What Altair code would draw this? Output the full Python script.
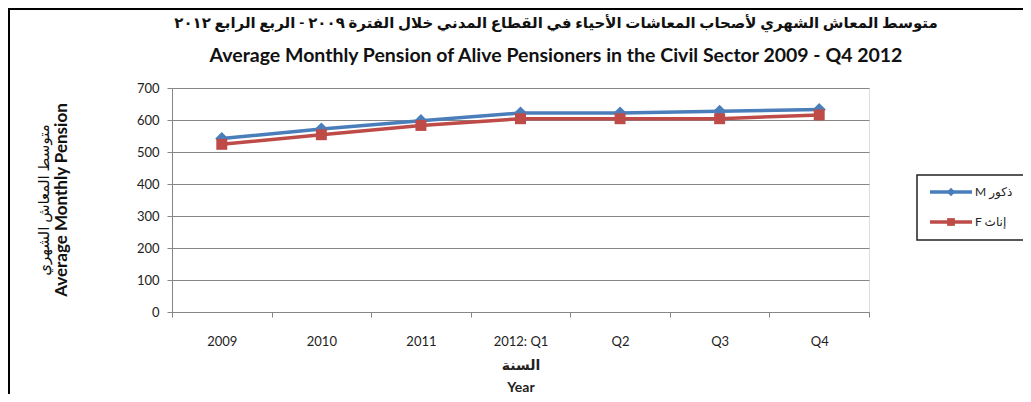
import altair as alt
import pandas as pd

categories = ["2009", "2010", "2011", "2012: Q1", "Q2", "Q3", "Q4"]
male_values = [542, 572, 598, 622, 622, 627, 633]
female_values = [524, 554, 583, 604, 604, 604, 616]
series_names = ["M ذكور", "F إناث"]
series_colors = ["#4A7EBB", "#BE4B48"]

title_ar = "متوسط المعاش الشهري لأصحاب المعاشات الأحياء في القطاع المدني خلال الفترة ٢٠٠٩ - الربع الرابع ٢٠١٢"
title_en = "Average Monthly Pension of Alive Pensioners in the Civil Sector 2009 - Q4 2012"
y_title_ar = "متوسط المعاش الشهري"
y_title_en = "Average Monthly Pension"
x_title = ["السنة", "Year"]

rows = []
for name, vals in zip(series_names, [male_values, female_values]):
    for c, v in zip(categories, vals):
        rows.append({"period": c, "value": v, "series": name})
df = pd.DataFrame(rows)

FONT = "Lato, 'DejaVu Sans', sans-serif"

x_enc = alt.X(
    "period:N",
    sort=categories,
    scale=alt.Scale(type="band", paddingInner=0, paddingOuter=0),
    axis=alt.Axis(
        title=x_title, labelAngle=0, grid=False, tickBand="extent", tickSize=5,
        domainColor="#868686", tickColor="#868686", labelPadding=18,
        labelFontSize=13, labelColor="#222222", labelFont=FONT,
        titleFont=FONT, titleFontSize=14, titleFontWeight="bold",
        titleLineHeight=22, titlePadding=10, titleColor="#222222",
    ),
)
y_enc = alt.Y(
    "value:Q",
    scale=alt.Scale(domain=[0, 700], nice=False),
    axis=alt.Axis(
        title=None, values=[0, 100, 200, 300, 400, 500, 600, 700],
        grid=True, gridColor="#868686", gridWidth=1, tickSize=5,
        domainColor="#868686", tickColor="#868686", labelPadding=8,
        labelFontSize=13, labelColor="#222222", labelFont=FONT,
    ),
)
color_enc = alt.Color(
    "series:N", scale=alt.Scale(domain=series_names, range=series_colors), legend=None
)

base = alt.Chart(df)
layers = []
for name, shape, size in zip(series_names, ["diamond", "square"], [170, 120]):
    sub = base.transform_filter(alt.datum.series == name)
    layers.append(sub.mark_line(strokeWidth=3.5).encode(x=x_enc, y=y_enc, color=color_enc))
    layers.append(
        sub.mark_point(shape=shape, filled=True, size=size, opacity=1).encode(
            x=x_enc, y=y_enc, color=color_enc
        )
    )

one = pd.DataFrame({"k": [0]})


def text_layer(txt, x, y, size, weight="normal", angle=0):
    return alt.Chart(pd.DataFrame({"t": [txt]})).mark_text(
        align="center", baseline="middle", fontSize=size, font=FONT,
        fontWeight=weight, color="#111111", angle=angle,
    ).encode(x=alt.value(x), y=alt.value(y), text="t:N")


# outer frame
frame = alt.Chart(one).mark_rect(fill="transparent", stroke="#000000", strokeWidth=2).encode(
    x=alt.value(-163), x2=alt.value(1000), y=alt.value(-79), y2=alt.value(400)
)
titles = [
    text_layer(title_ar, 384, -65, 15, "bold"),
    text_layer(title_en, 384, -32, 19.5, "bold"),
    text_layer(y_title_ar, -128, 112, 15, "normal", 270),
    text_layer(y_title_en, -110, 112, 17, "bold", 270),
]
# legend box
lbox = alt.Chart(one).mark_rect(fill="white", stroke="#222222", strokeWidth=1.5).encode(
    x=alt.value(745), x2=alt.value(857), y=alt.value(87), y2=alt.value(152)
)
legend_layers = [lbox]
for name, color, shape, size, ly in zip(
    series_names, series_colors, ["diamond", "square"], [70, 60], [104, 134]
):
    legend_layers.append(
        alt.Chart(one).mark_rule(color=color, strokeWidth=3.5).encode(
            x=alt.value(758), x2=alt.value(800), y=alt.value(ly)
        )
    )
    legend_layers.append(
        alt.Chart(one).mark_point(shape=shape, filled=True, size=size, color=color, opacity=1).encode(
            x=alt.value(779), y=alt.value(ly)
        )
    )
    legend_layers.append(
        alt.Chart(pd.DataFrame({"t": [name]})).mark_text(
            align="left", baseline="middle", fontSize=12, font=FONT, color="#222222"
        ).encode(x=alt.value(803), y=alt.value(ly), text="t:N")
    )

chart = alt.layer(frame, *layers, *titles, *legend_layers).properties(
    width=697,
    height=224,
    autosize=alt.AutoSizeParams(type="none"),
    padding={"left": 164, "top": 80, "right": 154, "bottom": 82},
).configure_view(fill="#D9D9D9", stroke=None).configure(background="white")

chart.save("out.html", embed_options={"renderer": "svg", "actions": False})
